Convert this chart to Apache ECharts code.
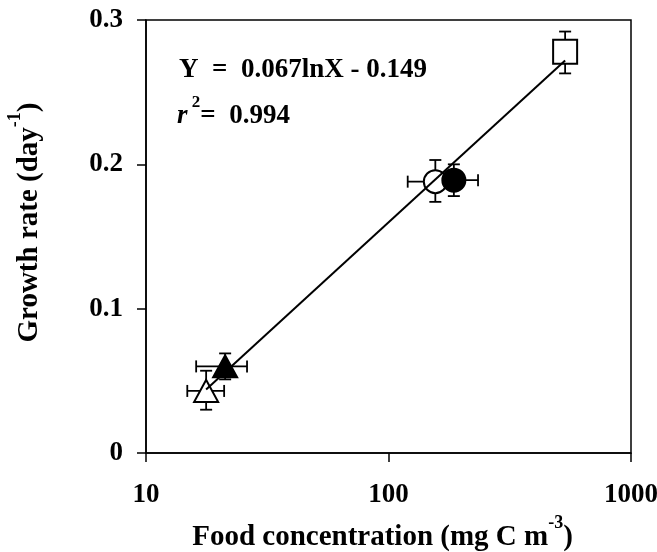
<!DOCTYPE html>
<html>
<head>
<meta charset="utf-8">
<script src="https://cdn.jsdelivr.net/npm/echarts@6/dist/echarts.min.js"></script>
<style>
  html, body { margin: 0; padding: 0; background: #fff; }
  #chart { width: 657px; height: 552px; }
</style>
</head>
<body>
<div id="chart"></div>
<script>
// food concentration (mg C m-3) and growth rate (day-1)
// row: [x, y, xLow, xHigh, yLow, yHigh]
const openSquare = [[535, 0.278, 535, 535, 0.263, 0.292]]
const openCircle = [[156, 0.188, 120, 200, 0.174, 0.203]]
const filledCircle = [[186, 0.189, 148, 234, 0.178, 0.200]]
const filledTriangle = [[21.2, 0.060, 16.1, 26.1, 0.051, 0.069]]
const openTriangle = [[17.7, 0.043, 14.8, 21.0, 0.030, 0.057]]
// fitted line Y = 0.067lnX - 0.149, endpoints as drawn
const fitLine = [[17.7, 0.044], [535, 0.272]]
const yTicks = [0, 0.1, 0.2, 0.3]

const font = 'Liberation Serif'
const black = '#000'

function errorBarSeries(name, data) {
  return {
    name: name + ' error',
    type: 'custom',
    z: 1,
    silent: true,
    encode: { x: 0, y: 1 },
    data: data,
    renderItem(params, api) {
      const x = api.value(0)
      const y = api.value(1)
      const cap = 6
      const style = { stroke: black, lineWidth: 1.8, fill: null }
      const children = []
      const top = api.coord([x, api.value(5)])
      const bot = api.coord([x, api.value(4)])
      children.push({ type: 'line', shape: { x1: top[0], y1: top[1], x2: bot[0], y2: bot[1] }, style: style })
      children.push({ type: 'line', shape: { x1: top[0] - cap, y1: top[1], x2: top[0] + cap, y2: top[1] }, style: style })
      children.push({ type: 'line', shape: { x1: bot[0] - cap, y1: bot[1], x2: bot[0] + cap, y2: bot[1] }, style: style })
      if (api.value(2) !== api.value(3)) {
        const left = api.coord([api.value(2), y])
        const right = api.coord([api.value(3), y])
        children.push({ type: 'line', shape: { x1: left[0], y1: left[1], x2: right[0], y2: right[1] }, style: style })
        children.push({ type: 'line', shape: { x1: left[0], y1: left[1] - cap, x2: left[0], y2: left[1] + cap }, style: style })
        children.push({ type: 'line', shape: { x1: right[0], y1: right[1] - cap, x2: right[0], y2: right[1] + cap }, style: style })
      }
      return { type: 'group', children: children }
    }
  }
}

function pointSeries(name, data, symbol, filled, size) {
  return {
    name: name,
    type: 'scatter',
    z: 2,
    symbol: symbol,
    symbolSize: size,
    encode: { x: 0, y: 1 },
    data: data,
    itemStyle: {
      color: filled ? black : '#fff',
      borderColor: black,
      borderWidth: 2,
      opacity: 1
    }
  }
}

const titleRich = {
  t: { fontFamily: font, fontWeight: 'bold', fontSize: 29, color: black, lineHeight: 38, verticalAlign: 'bottom' },
  s: { fontFamily: font, fontWeight: 'bold', fontSize: 18, color: black, lineHeight: 20, verticalAlign: 'top' }
}

const chart = echarts.init(document.getElementById('chart'))

const option = {
  backgroundColor: '#fff',
  animation: false,
  grid: {
    left: 146,
    right: 26,
    top: 20,
    bottom: 99,
    outerBoundsMode: 'none',
    containLabel: false,
    show: true,
    borderColor: black,
    borderWidth: 1.5,
    backgroundColor: 'transparent'
  },
  graphic: [{
    type: 'text',
    left: 179,
    top: 57,
    style: {
      text: 'Y  =  0.067lnX - 0.149',
      font: 'bold 27px "' + font + '"',
      fill: black
    }
  }, {
    type: 'text',
    left: 177,
    top: 94,
    style: {
      text: '{i|r}{sup| 2}{b|=  0.994}',
      fill: black,
      rich: {
        i: { fontFamily: font, fontWeight: 'bold', fontStyle: 'italic', fontSize: 27, lineHeight: 36, verticalAlign: 'bottom' },
        sup: { fontFamily: font, fontWeight: 'bold', fontSize: 17, lineHeight: 18, verticalAlign: 'top' },
        b: { fontFamily: font, fontWeight: 'bold', fontSize: 27, lineHeight: 36, verticalAlign: 'bottom' }
      }
    }
  }],
  xAxis: {
    type: 'log',
    logBase: 10,
    min: 10,
    max: 1000,
    name: '{t|Food concentration (mg C m}{s|-3}{t|)}',
    nameLocation: 'middle',
    nameGap: 56,
    nameTextStyle: {
      padding: [0, 12, 0, 0],
      rich: titleRich
    },
    axisLine: { show: true, lineStyle: { color: black, width: 1.5 } },
    axisTick: { show: true, inside: false, length: 9, lineStyle: { color: black, width: 1.5 } },
    minorTick: { show: false },
    splitLine: { show: false },
    axisLabel: {
      margin: 29,
      fontFamily: font,
      fontWeight: 'bold',
      fontSize: 27,
      color: black,
      formatter: function (v) {
        return String(Math.round(v))
      }
    }
  },
  yAxis: {
    type: 'value',
    min: yTicks[0],
    max: yTicks[yTicks.length - 1],
    interval: 0.1,
    name: '{t|Growth rate (day}{s|-1}{t|)}',
    nameLocation: 'middle',
    nameRotate: 90,
    nameGap: 102,
    nameTextStyle: {
      padding: [0, 0, 0, 28],
      rich: titleRich
    },
    axisLine: { show: true, lineStyle: { color: black, width: 1.5 } },
    axisTick: { show: true, inside: false, length: 9, lineStyle: { color: black, width: 1.5 } },
    splitLine: { show: false },
    axisLabel: {
      margin: 23,
      fontFamily: font,
      fontWeight: 'bold',
      fontSize: 27,
      color: black,
      formatter: function (v) {
        const r = Math.round(v * 10) / 10
        return yTicks.indexOf(r) >= 0 ? String(r) : ''
      }
    }
  },
  series: [
    errorBarSeries('open square', openSquare),
    errorBarSeries('open circle', openCircle),
    errorBarSeries('filled circle', filledCircle),
    errorBarSeries('open triangle', openTriangle),
    errorBarSeries('filled triangle', filledTriangle),
    pointSeries('open square', openSquare, 'rect', false, 24),
    pointSeries('open triangle', openTriangle, 'triangle', false, [24, 22]),
    pointSeries('filled triangle', filledTriangle, 'triangle', true, [24, 22]),
    pointSeries('open circle', openCircle, 'circle', false, 23),
    pointSeries('filled circle', filledCircle, 'circle', true, 23),
    {
      name: 'fit',
      type: 'line',
      z: 3,
      data: fitLine,
      symbol: 'none',
      silent: true,
      lineStyle: { color: black, width: 2 }
    }
  ]
}

chart.setOption(option)
</script>
</body>
</html>
